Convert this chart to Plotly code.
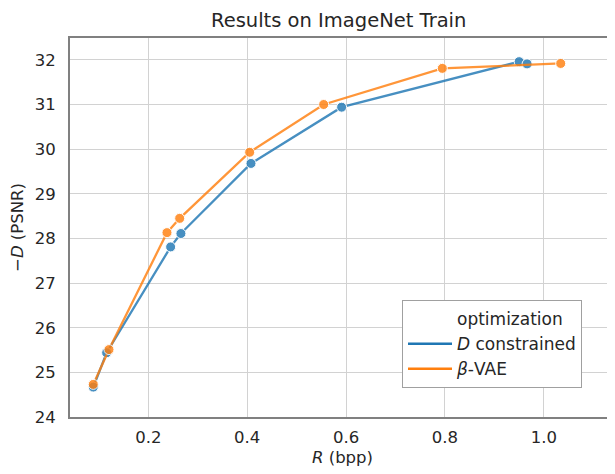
import plotly.graph_objects as go

# Data
rate_dc = [0.0888, 0.1158, 0.2452, 0.2660, 0.4077, 0.5910, 0.9500, 0.9660]
psnr_dc = [24.67, 25.44, 27.81, 28.11, 29.68, 30.94, 31.96, 31.91]
rate_vae = [0.0888, 0.1205, 0.2378, 0.2635, 0.4050, 0.5547, 0.7946, 1.0340]
psnr_vae = [24.73, 25.51, 28.13, 28.45, 29.93, 31.00, 31.81, 31.92]

x_ticks = [0.2, 0.4, 0.6, 0.8, 1.0]
x_tick_labels = ["0.2", "0.4", "0.6", "0.8", "1.0"]
y_ticks = [24, 25, 26, 27, 28, 29, 30, 31, 32]

BLUE = "#1f77b4"
ORANGE = "#ff7f0e"
TEXT = "#262626"
FONT = "DejaVu Sans"

W, H = 607, 466  # page body has an 8px margin
L, T, B = 62, 30, 57
PW = W - L
PH = H - T - B

fig = go.Figure()

for xs, ys, col in [(rate_dc, psnr_dc, BLUE), (rate_vae, psnr_vae, ORANGE)]:
    fig.add_trace(go.Scatter(
        x=xs, y=ys, mode="lines+markers", opacity=0.82,
        line=dict(color=col, width=2.3),
        marker=dict(color=col, size=10, line=dict(color="white", width=1)),
        showlegend=False, hoverinfo="skip"))

# legend entries (seaborn style with title as a dummy entry)
fig.add_trace(go.Scatter(x=[None], y=[None], mode="lines",
                         line=dict(color="rgba(0,0,0,0)", width=2),
                         name="optimization"))
fig.add_trace(go.Scatter(x=[None], y=[None], mode="lines",
                         line=dict(color=BLUE, width=2.5),
                         name="<i>D</i> constrained"))
fig.add_trace(go.Scatter(x=[None], y=[None], mode="lines",
                         line=dict(color=ORANGE, width=2.5),
                         name="<i>β</i>-VAE"))

fig.update_layout(
    width=W, height=H,
    margin=dict(l=L, r=0, t=T, b=B, autoexpand=False),
    paper_bgcolor="white", plot_bgcolor="white",
    font=dict(family=FONT, color=TEXT, size=16),
    title=dict(text="Results on ImageNet Train", x=0.493, xref="paper",
               xanchor="center", y=1 - 12 / H, yanchor="middle",
               font=dict(size=19.5, color=TEXT)),
    legend=dict(x=(394 - L) / PW, xanchor="left",
                y=(409 - 292) / PH, yanchor="top",
                bgcolor="white", bordercolor="#a0a0a0", borderwidth=1,
                font=dict(size=17, color=TEXT), traceorder="normal",
                tracegroupgap=0, itemwidth=44),
)

fig.update_xaxes(
    range=[0.0417, 1.1438], tickvals=x_ticks, ticktext=x_tick_labels,
    showgrid=True, gridcolor="#d2d2d2", gridwidth=1.2,
    showline=True, linecolor="#808080", linewidth=1.8, mirror=True,
    ticks="outside", ticklen=4, tickcolor="rgba(0,0,0,0)",
    tickfont=dict(size=16.5, color=TEXT), zeroline=False,
    title=dict(text="<i>R</i> (bpp)", font=dict(size=16.5, color=TEXT), standoff=6),
)
fig.update_yaxes(
    range=[24, 32.49], tickvals=y_ticks,
    showgrid=True, gridcolor="#d2d2d2", gridwidth=1.2,
    showline=True, linecolor="#808080", linewidth=1.8, mirror=False,
    ticks="outside", ticklen=9, tickcolor="rgba(0,0,0,0)",
    tickfont=dict(size=16.5, color=TEXT), zeroline=False,
    title=dict(text="−<i>D</i> (PSNR)", font=dict(size=16.5, color=TEXT), standoff=8),
)

fig.write_html("out.html")
